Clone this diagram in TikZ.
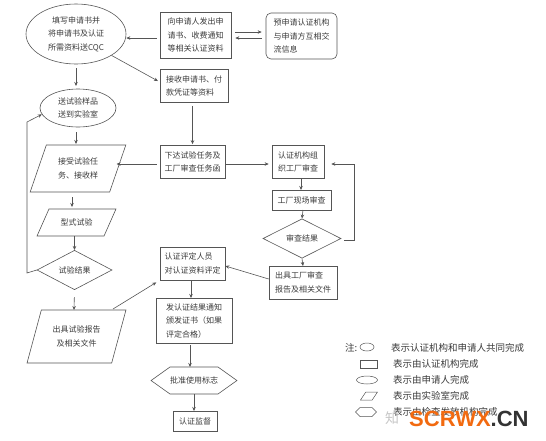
\documentclass[tikz,border=0pt]{standalone}
\usepackage{fontspec}
\setmainfont{Noto Sans CJK SC}
\newfontfamily\wmfont{Liberation Sans}
\usetikzlibrary{arrows.meta,positioning,shapes}
\definecolor{linegray}{HTML}{555555}
\definecolor{textgray}{HTML}{3A3A3A}
\definecolor{wmorange}{HTML}{F26A10}
\tikzset{
  base/.style={draw=linegray,line width=.6pt,inner sep=0pt,text=textgray,align=left,font=\fontsize{8}{13.5}\selectfont},
  box/.style={base,rectangle},
  oval/.style={base,ellipse,align=center},
  decide/.style={base,diamond,align=center},
  para/.style={base,trapezium,trapezium stretches=true,align=center},
  hexa/.style={base,signal,signal to=east and west,align=center},
  arr/.style={-{Stealth[length=4pt,width=3.5pt]},line width=.6pt,draw=linegray},
  legtext/.style={anchor=west,inner sep=0pt,text=textgray,font=\fontsize{9.5}{11}\selectfont},
}
\begin{document}
\begin{tikzpicture}[x=1pt,y=-1pt]
\useasboundingbox (0,0) rectangle (546,440);
\node[oval,minimum width=100pt,minimum height=60pt] (n0) at (76,34) {填写申请书并\\将申请书及认证\\所需资料送CQC};
\node[box,minimum width=71pt,minimum height=46pt] (n1) at (195.5,35) {向申请人发出申\\请书、收费通知\\等相关认证资料};
\node[box,rounded corners=5pt,minimum width=71pt,minimum height=46pt] (n2) at (301.5,36) {预申请认证机构\\与申请方互相交\\流信息};
\node[box,minimum width=68pt,minimum height=33pt] (n3) at (194,86) {接收申请书、付\\款凭证等资料};
\node[oval,minimum width=76pt,minimum height=38pt] (n4) at (78,108) {送试验样品\\送到实验室};
\node[para,trapezium left angle=64,trapezium right angle=116,minimum width=96pt,minimum height=47pt] (n5) at (78,168.5) {接受试验任\\务、接收样};
\node[box,minimum width=65pt,minimum height=33pt] (n6) at (192.5,162) {下达试验任务及\\工厂审查任务函};
\node[box,minimum width=52pt,minimum height=33pt] (n7) at (298,162) {认证机构组\\织工厂审查};
\node[box,minimum width=59pt,minimum height=20pt] (n8) at (301.5,200) {工厂现场审查};
\node[decide,minimum width=78pt,minimum height=32pt] (n9) at (302,238.5) {审查结果};
\node[para,trapezium left angle=47,trapezium right angle=133,minimum width=79pt,minimum height=27pt] (n10) at (76.5,222.5) {型式试验};
\node[decide,minimum width=75pt,minimum height=32pt] (n11) at (74.5,270) {试验结果};
\node[box,minimum width=65pt,minimum height=33pt] (n12) at (192.5,263.5) {认证评定人员\\对认证资料评定};
\node[box,minimum width=68pt,minimum height=33pt] (n13) at (303,282.5) {出具工厂审查\\报告及相关文件};
\node[para,trapezium left angle=65,trapezium right angle=115,minimum width=99pt,minimum height=53pt] (n14) at (76.5,336.5) {出具试验报告\\及相关文件};
\node[box,minimum width=76pt,minimum height=45pt] (n15) at (194,320.5) {发认证结果通知\\颁发证书（如果\\评定合格）};
\node[hexa,signal pointer angle=71,minimum width=82pt,minimum height=27pt] (n16) at (194,380.5) {批准使用标志};
\node[box,minimum width=44pt,minimum height=20pt] (n17) at (195,421) {认证监督};
\coordinate (c0) at (27,273);
\coordinate (c1) at (27,122);
\coordinate (c2) at (354,240);
\coordinate (c3) at (354,164);
\draw[arr,shorten <=3pt] ([yshift=-3pt]n1.west) -- ([yshift=-4pt]n0.east);
\draw[arr,shorten <=4pt,shorten >=4pt] ([yshift=3pt]n1.east) -- ([yshift=4pt]n2.west);
\draw[arr,shorten <=4pt,shorten >=4pt] ([yshift=-2pt]n2.west) -- ([yshift=-3pt]n1.east);
\draw[arr,shorten >=2pt] (n0.south east) -- ([yshift=4pt]n3.west);
\draw[arr,shorten <=4pt,shorten >=3pt] (n0.south) -- (76,89);
\draw[arr,shorten <=5pt,shorten >=1pt] (76,127) -- (76,145);
\draw[arr,shorten <=5pt,shorten >=2pt] (72,192) -- (72,209);
\draw[arr] (74.5,236) -- (n11.north);
\draw[arr,shorten <=7pt] (n11.south) -- (74,310);
\draw[arr] (n11.west) -- (c0) -- (c1) -- (n4.190);
\draw[arr,shorten <=3pt,shorten >=1pt] (n3.south -| n6.north) -- (n6.north);
\draw[arr,shorten <=3pt,shorten >=1pt] ([yshift=-2pt]n6.west) -- (115.5,164);
\draw[arr,shorten >=3pt] ([yshift=-2pt]n6.east) -- ([yshift=-2pt]n7.west);
\draw[arr] (301,178) -- (301,190);
\draw[arr] (303,210) -- (n9.north);
\draw[arr] (n9.south) -- (303,266);
\draw[arr,shorten <=3pt,shorten >=7pt] ([yshift=-1.5pt]n9.east) -- (c2) -- (c3) -- ([yshift=-2pt]n7.east);
\draw[arr] ([yshift=3.5pt]n13.west) -- ([yshift=-2.5pt]n12.east);
\draw[arr,shorten >=4pt] (113,309) -- (n12.south west);
\draw[arr] (191,280) -- (191,298);
\draw[arr,shorten <=2pt] (190,343) -- (190,367);
\draw[arr] (n16.south) -- (194,411);
\node[anchor=west,inner sep=0pt,text=textgray,font=\fontsize{9.5}{11}\selectfont] (l0) at (345,348) {注:};
\node[draw=linegray,line width=.5pt,ellipse,inner sep=0pt,minimum width=14pt,minimum height=8pt] (s0) at (367,347) {};
\node[legtext] (l1) at (391,347.5) {表示认证机构和申请人共同完成};
\node[draw=linegray,line width=.5pt,inner sep=0pt,minimum width=17pt,minimum height=8pt] (s1) at (369,364) {};
\node[legtext] (l2) at (393,364) {表示由认证机构完成};
\node[draw=linegray,line width=.5pt,ellipse,inner sep=0pt,minimum width=21pt,minimum height=8pt] (s2) at (367,380) {};
\node[legtext] (l3) at (393,380) {表示由申请人完成};
\node[draw=linegray,line width=.5pt,trapezium,trapezium stretches=true,trapezium left angle=50,trapezium right angle=130,inner sep=0pt,minimum width=17pt,minimum height=8pt] (s3) at (369,396) {\phantom{\rule{1pt}{1pt}}};
\node[legtext] (l4) at (393,396) {表示由实验室完成};
\node[draw=linegray,line width=.5pt,signal,signal to=east and west,signal pointer angle=90,inner sep=0pt,minimum width=21pt,minimum height=9pt] (s4) at (366,412) {\phantom{\rule{1pt}{1pt}}};
\node[legtext] (l5) at (393,412) {表示由检查发放机构完成};
\node[anchor=west,inner sep=0pt,text=black!22,font=\fontsize{14}{16}\selectfont] (w0) at (385,418) {知};
\node[anchor=west,inner sep=0pt,font=\wmfont\bfseries\fontsize{22}{24}\selectfont] (w1) at (409,418.5) {\textcolor{wmorange}{SCRWX}\textcolor{black!80}{.CN}};
\end{tikzpicture}
\end{document}
